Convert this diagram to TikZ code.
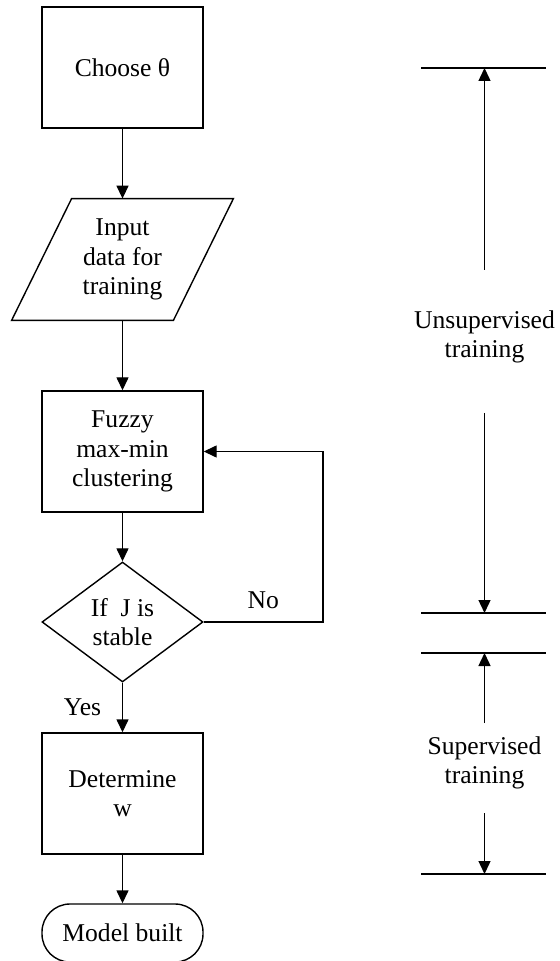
\documentclass[tikz,border=0pt]{standalone}
\usepackage{fontspec}
\setmainfont{Liberation Serif}
\usetikzlibrary{positioning, arrows.meta, shapes.geometric}
\tikzset{
  block/.style={draw, rectangle, line width=0.7pt, minimum width=80.5pt, minimum height=60.5pt,
                align=center, inner sep=2pt},
  io/.style   ={rectangle, minimum width=80.5pt, minimum height=60.5pt,
                align=center, inner sep=1pt},
  decision/.style={draw, diamond, line width=0.7pt, minimum width=80.5pt, minimum height=60pt,
                align=center, inner sep=0pt},
  terminal/.style={draw, rectangle, rounded corners=14pt, line width=0.7pt,
                minimum width=80.5pt, minimum height=29pt},
  line/.style ={line width=0.7pt, -{Triangle[length=6.5pt,width=6pt]}},
  bar/.style  ={line width=0.7pt}
}

\begin{document}
\begin{tikzpicture}[x=0.5pt, y=-0.5pt, font=\fontsize{12.8}{14.6}\selectfont]
  \useasboundingbox (0,0) rectangle (560,961);

  % flow chart
  \node[block]    (theta)   at (122.5,67.5)  {Choose θ};
  \node[io]       (input)   at (122.5,259.5) {Input\\data for\\training};
  \node[block]    (fuzzy)   at (122.5,451.5) {Fuzzy\\max-min\\clustering};
  \node[decision] (stable)  at (122.5,622)   {If~~J is\\stable};
  \node[block]    (weights) at (122.5,793.5) {Determine\\w};
  \node[terminal] (built)   at (122.5,933)   {Model built};
  % slanted outline of the input node
  \draw[bar] ([xshift=-15pt]input.south west) -- ([xshift=-15pt]input.south east)
          -- ([xshift=15pt]input.north east) -- ([xshift=15pt]input.north west) -- cycle;

  \draw[line] (theta) -- (input);
  \draw[line] (input) -- (fuzzy);
  \draw[line] (fuzzy) -- (stable);
  \draw[line] (stable) -- node[left=7pt]{Yes} (weights);
  \draw[line] (weights) -- (built);
  % loop back when not stable
  \coordinate (loop) at (323,622);
  \draw[line] (stable.east) -- node[above=3pt]{No} (loop) |- (fuzzy.east);

  % training phases
  \draw[bar] (421,68)  coordinate (barA) -- (546,68);
  \draw[bar] (421,613) coordinate (barB) -- (546,613);
  \draw[bar] (421,653) coordinate (barC) -- (546,653);
  \draw[bar] (421,874) coordinate (barD) -- (546,874);

  \node[align=center] (unsup) at (484.5,336.5) {Unsupervised\\training};
  \node[align=center] (sup)   at (484.5,762.5) {Supervised\\training};

  \coordinate (ua) at (484.5,270);
  \coordinate (ub) at (484.5,413);
  \coordinate (sa) at (484.5,723);
  \coordinate (sb) at (484.5,813);
  \draw[line] (ua) -- (ua |- barA);
  \draw[line] (ub) -- (ub |- barB);
  \draw[line] (sa) -- (sa |- barC);
  \draw[line] (sb) -- (sb |- barD);
\end{tikzpicture}
\end{document}
